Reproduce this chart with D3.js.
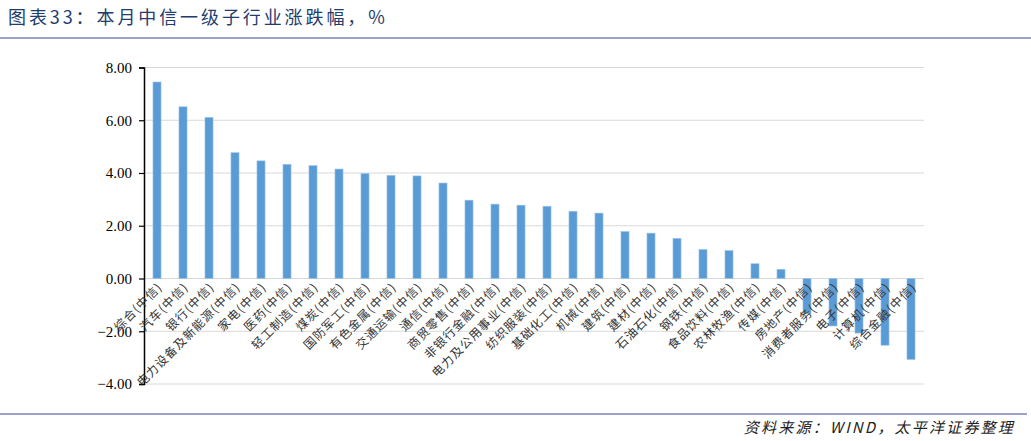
<!DOCTYPE html>
<html>
<head>
<meta charset="utf-8">
<script src="https://cdn.jsdelivr.net/npm/d3@7"></script>
<style>
  body { margin: 0; background: #fff; }
</style>
</head>
<body>
<script>
// 行业名称 & 涨跌幅 (%)
var categories = ["综合(中信)", "汽车(中信)", "银行(中信)", "电力设备及新能源(中信)", "家电(中信)", "医药(中信)",
  "轻工制造(中信)", "煤炭(中信)", "国防军工(中信)", "有色金属(中信)", "交通运输(中信)", "通信(中信)",
  "商贸零售(中信)", "非银行金融(中信)", "电力及公用事业(中信)", "纺织服装(中信)", "基础化工(中信)", "机械(中信)",
  "建筑(中信)", "建材(中信)", "石油石化(中信)", "钢铁(中信)", "食品饮料(中信)", "农林牧渔(中信)",
  "传媒(中信)", "房地产(中信)", "消费者服务(中信)", "电子(中信)", "计算机(中信)", "综合金融(中信)"];
var values = [7.45, 6.51, 6.11, 4.77, 4.46, 4.33, 4.28, 4.15, 3.98, 3.91, 3.89, 3.62,
  2.97, 2.82, 2.78, 2.74, 2.55, 2.48, 1.78, 1.72, 1.52, 1.10, 1.06, 0.56,
  0.35, -1.33, -1.80, -2.07, -2.53, -3.07];
var yTicks = [-4, -2, 0, 2, 4, 6, 8];

var W = 1031, H = 441;
var svg = d3.select("body").append("svg").attr("width", W).attr("height", H);

// title + rule
svg.append("text")
  .attr("x", 8).attr("y", 24)
  .attr("font-family", "'Noto Sans CJK SC', sans-serif")
  .attr("font-size", 18)
  .attr("letter-spacing", 2.9)
  .attr("fill", "#1f3d6d")
  .text("图表33：本月中信一级子行业涨跌幅，%");
svg.append("line")
  .attr("x1", 0).attr("x2", W).attr("y1", 38).attr("y2", 38)
  .attr("stroke", "#9ba3c9").attr("stroke-width", 2);

// footer
svg.append("line")
  .attr("x1", 0).attr("x2", 1027).attr("y1", 414).attr("y2", 414)
  .attr("stroke", "#9ba3c9").attr("stroke-width", 2);
svg.append("text")
  .attr("x", 1015).attr("y", 433)
  .attr("text-anchor", "end")
  .attr("font-family", "'Noto Sans CJK SC', sans-serif")
  .attr("font-style", "italic")
  .attr("font-size", 15)
  .attr("letter-spacing", 2.2)
  .attr("fill", "#222")
  .text("资料来源：WIND，太平洋证券整理");

var x = d3.scaleBand().domain(categories).range([144, 924]).paddingInner(0.69).paddingOuter(0.345);
var y = d3.scaleLinear().domain([-4, 8]).range([384, 67.5]);

// grid
svg.append("g").selectAll("line")
  .data(yTicks)
  .enter().append("line")
    .attr("x1", 144).attr("x2", 924)
    .attr("y1", function (d) { return y(d); })
    .attr("y2", function (d) { return y(d); })
    .attr("stroke", "#d9d9d9").attr("stroke-width", 1);

// bars
svg.append("g").selectAll("rect")
  .data(values)
  .enter().append("rect")
    .attr("x", function (d, i) { return x(categories[i]); })
    .attr("width", x.bandwidth())
    .attr("y", function (d) { return y(Math.max(0, d)); })
    .attr("height", function (d) { return Math.abs(y(d) - y(0)); })
    .attr("fill", "#5b9bd5")
    .attr("stroke", "#9cc3e8").attr("stroke-width", 0.6);

// y axis
var yAxis = svg.append("g")
  .attr("transform", "translate(144,0)")
  .call(d3.axisLeft(y).tickValues(yTicks).tickFormat(d3.format(".2f")).tickSize(5).tickPadding(7));
yAxis.select(".domain").attr("stroke", "#000").attr("stroke-width", 1.5);
yAxis.selectAll(".tick line").attr("stroke", "#000").attr("stroke-width", 1.2);
yAxis.selectAll("text")
  .attr("font-family", "'Liberation Serif', serif")
  .attr("font-size", 15)
  .attr("fill", "#000");

// category labels, rotated
svg.append("g").selectAll("text")
  .data(categories)
  .enter().append("text")
    .attr("transform", function (d) {
      var cx = x(d) + x.bandwidth() / 2 + 6;
      return "translate(" + cx + ",288) rotate(-45)";
    })
    .attr("text-anchor", "end")
    .attr("font-family", "'Noto Sans CJK SC', sans-serif")
    .attr("font-size", 12)
    .attr("letter-spacing", 1)
    .attr("fill", "#333")
    .text(function (d) { return d; });
</script>
</body>
</html>
